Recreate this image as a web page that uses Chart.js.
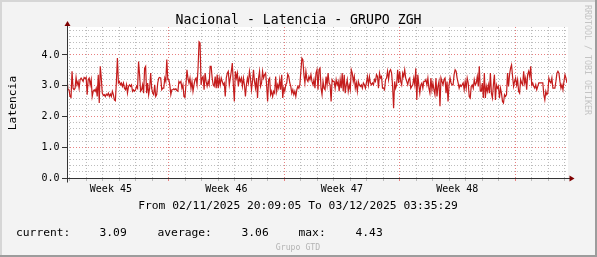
<!DOCTYPE html>
<html>
<head>
<meta charset="utf-8">
<script src="https://cdn.jsdelivr.net/npm/chart.js@4/dist/chart.umd.min.js"></script>
<style>
  html, body { margin: 0; padding: 0; background: #f3f3f3; }
  canvas { display: block; }
</style>
</head>
<body>
<canvas id="latChart" width="597" height="257"></canvas>
<script>
const chartTitle = 'Nacional - Latencia - GRUPO ZGH';
const yTitle = 'Latencia';
const rangeText = 'From 02/11/2025 20:09:05 To 03/12/2025 03:35:29';
const watermark = 'RRDTOOL / TOBI OETIKER';
const footer = 'Grupo GTD';

// time in days counted from 02/11/2025 00:00 (a Sunday)
const tStart = 0.83964;   // 20:09:05
const tEnd = 31.14964;    // 03/12 03:35:29

const weekLabels = ['Week 45', 'Week 46', 'Week 47', 'Week 48'];
const weekCenters = [3.5, 10.5, 17.5, 24.5];
const yMajor = [0, 1, 2, 3, 4];
const yMax = 4.91;

const statNames = ['current:', 'average:', 'max:'];
const statValues = ['3.09', '3.06', '4.43'];

const latency = [
  3.25, 2.87, 2.87, 2.65, 2.62, 3.47, 2.92, 2.87, 2.92, 3.27,
  3.03, 3.14, 2.92, 3.20, 3.25, 3.20, 3.14, 3.27, 3.23, 3.27,
  2.71, 3.20, 3.25, 3.03, 3.20, 2.65, 2.82, 2.87, 2.82, 2.92,
  2.65, 3.36, 2.44, 3.63, 3.25, 2.76, 2.69, 2.71, 2.65, 2.73,
  2.69, 2.76, 2.65, 2.73, 2.65, 2.82, 2.71, 2.54, 2.51, 3.14,
  3.90, 3.09, 3.14, 3.03, 3.09, 2.98, 3.09, 2.92, 2.87, 3.03,
  2.76, 2.98, 3.03, 2.98, 3.03, 2.82, 2.87, 2.82, 2.87, 2.98,
  2.92, 3.79, 3.36, 2.82, 2.87, 3.03, 2.76, 3.57, 3.63, 2.76,
  3.09, 2.71, 2.92, 3.41, 2.92, 2.76, 2.71, 3.03, 2.65, 2.71,
  3.09, 3.25, 3.27, 3.25, 2.87, 2.92, 2.92, 3.25, 3.14, 3.85,
  // week 46
  3.20, 3.20, 3.03, 2.71, 2.87, 2.87, 2.90, 2.87, 2.90, 2.84,
  2.82, 3.14, 3.09, 3.14, 2.92, 3.03, 2.65, 2.62, 3.03, 3.52,
  3.25, 3.09, 3.25, 2.92, 3.14, 2.82, 3.03, 3.20, 3.25, 3.03,
  3.57, 4.43, 4.39, 3.03, 3.25, 3.30, 2.87, 3.41, 3.14, 2.98,
  3.14, 3.03, 3.63, 3.63, 3.25, 3.03, 2.98, 3.30, 2.92, 3.36,
  2.92, 3.25, 3.03, 3.25, 3.14, 3.03, 3.09, 2.65, 3.25, 3.41,
  3.47, 3.03, 3.25, 3.47, 3.74, 3.03, 2.49, 3.47, 3.25, 3.41,
  2.98, 3.25, 3.14, 3.25, 2.98, 3.25, 3.03, 2.65, 3.03, 3.25,
  3.09, 3.47, 3.25, 2.87, 3.14, 3.52, 3.14, 2.92, 3.25, 2.60,
  3.25, 3.47, 2.98, 3.09, 3.47, 3.25, 3.36, 3.41, 3.03,
  // week 47
  2.49, 3.20, 3.25, 2.71, 2.82, 2.65, 2.82, 2.76, 3.30, 2.82,
  3.03, 2.92, 3.20, 2.87, 3.36, 2.60, 2.92, 2.82, 3.03, 3.09,
  3.38, 3.30, 3.09, 2.98, 2.76, 2.87, 2.71, 2.82, 2.65, 2.87,
  2.98, 2.92, 3.03, 3.47, 3.90, 3.85, 3.36, 3.09, 3.47, 3.20,
  3.14, 3.30, 3.20, 3.36, 3.14, 3.03, 3.20, 2.92, 3.41, 3.52,
  2.87, 3.52, 3.57, 2.92, 2.71, 3.14, 2.92, 2.87, 3.30, 3.03,
  3.41, 3.09, 3.03, 2.49, 3.20, 3.14, 3.14, 2.92, 3.20, 3.03,
  3.14, 2.82, 3.20, 2.92, 3.41, 2.82, 3.36, 2.76, 3.03, 3.20,
  2.82, 3.03, 2.87, 3.52, 3.41, 3.14, 3.30, 2.92, 3.09, 2.82,
  3.14, 3.03, 2.98, 3.03, 2.92, 3.09, 3.03, 2.92, 3.09, 3.30,
  // week 48
  3.03, 3.30, 3.09, 3.03, 3.09, 3.03, 3.20, 3.14, 3.36, 3.30,
  2.92, 3.41, 3.25, 3.30, 2.92, 2.92, 2.87, 3.20, 3.25, 3.47,
  3.20, 3.47, 3.52, 3.41, 2.98, 2.27, 3.14, 2.92, 3.03, 3.52,
  3.09, 3.47, 3.14, 3.03, 3.41, 3.30, 3.52, 3.25, 3.14, 3.03,
  3.20, 3.25, 2.92, 2.98, 3.03, 3.25, 3.03, 3.57, 2.54, 3.36,
  3.03, 2.76, 3.03, 3.09, 2.92, 3.14, 3.14, 3.20, 3.03, 3.25,
  2.92, 2.76, 3.25, 2.87, 3.09, 2.87, 2.71, 3.25, 2.65, 2.98,
  3.14, 2.33, 3.25, 3.14, 3.03, 3.20, 3.25, 2.76, 3.14, 2.49,
  3.03, 3.25, 3.09, 3.03, 3.03, 3.36, 3.52, 3.47, 3.25, 3.09,
  2.92, 3.03, 2.98, 3.03, 3.09, 2.87, 3.14, 2.92, 3.25, 3.09,
  // last days
  2.65, 2.60, 2.98, 3.03, 2.92, 3.20, 3.03, 3.09, 3.30, 2.98,
  3.63, 2.82, 2.82, 3.09, 2.60, 3.41, 2.60, 2.98, 2.82, 3.03,
  2.76, 3.41, 2.76, 2.60, 3.03, 3.36, 2.54, 3.03, 2.92, 2.98,
  2.60, 2.92, 2.76, 2.49, 2.44, 2.71, 2.65, 2.71, 3.41, 2.98,
  3.36, 3.57, 3.68, 3.30, 2.98, 3.14, 3.25, 3.03, 3.20, 2.82,
  2.76, 3.20, 3.09, 3.03, 3.47, 3.09, 3.25, 2.87, 3.36, 3.47,
  3.30, 3.63, 3.03, 3.09, 2.98, 2.92, 3.03, 2.87, 2.98, 3.09,
  3.09, 3.09, 3.09, 3.09, 2.71, 2.54, 2.82, 2.71, 2.76, 3.25,
  3.14, 3.09, 3.25, 2.92, 2.92, 2.92, 3.14, 3.41, 3.47, 3.41,
  3.14, 2.92, 3.03, 2.87, 3.14, 3.36, 3.25, 3.09
];

const step = (tEnd - tStart) / (latency.length - 1);
const points = latency.map((v, i) => ({ x: tStart + i * step, y: v }));

const mono = '"DejaVu Sans Mono", monospace';
const gridGrey = '#bdbdbd';
const gridRed = '#e88080';
const axisColor = '#333333';
const arrowColor = '#7f0000';

const rrdFrame = {
  id: 'rrdFrame',
  beforeDraw(chart) {
    const c = chart.ctx, a = chart.chartArea;
    c.save();
    c.fillStyle = '#f3f3f3';
    c.fillRect(0, 0, chart.width, chart.height);
    // shaded frame
    c.fillStyle = '#d6d6d6';
    c.fillRect(0, 0, chart.width, 2);
    c.fillRect(0, 0, 2, chart.height);
    c.fillStyle = '#9c9c9c';
    c.fillRect(0, chart.height - 2, chart.width, 2);
    c.fillRect(chart.width - 2, 0, 2, chart.height);
    c.fillStyle = '#ffffff';
    c.fillRect(a.left, a.top, a.right - a.left + 1, a.bottom - a.top);
    c.restore();
  },
  afterDraw(chart) {
    const c = chart.ctx, a = chart.chartArea;
    const x0 = Math.round(a.left) + 0.5, y0 = Math.round(a.bottom) + 0.5;
    c.save();
    // axes
    c.strokeStyle = axisColor;
    c.lineWidth = 1;
    c.beginPath();
    c.moveTo(x0 - 5, y0); c.lineTo(a.right + 3, y0);
    c.moveTo(x0, y0 + 4); c.lineTo(x0, a.top - 3);
    c.stroke();
    // arrows
    c.fillStyle = arrowColor;
    c.beginPath();
    c.moveTo(a.right + 7.5, y0); c.lineTo(a.right + 2.5, y0 - 3); c.lineTo(a.right + 2.5, y0 + 3);
    c.closePath(); c.fill();
    c.beginPath();
    c.moveTo(x0, a.top - 6); c.lineTo(x0 - 3, a.top - 1); c.lineTo(x0 + 3, a.top - 1);
    c.closePath(); c.fill();

    // texts
    c.fillStyle = '#000';
    c.textBaseline = 'alphabetic';
    c.textAlign = 'center';
    c.font = '13.2px ' + mono;
    c.fillText(chartTitle, 298.5, 24);
    c.font = '11.3px ' + mono;
    c.fillText(rangeText, 298, 208.5);

    c.textAlign = 'left';
    const statX = [[16, 99.5], [157.5, 241.5], [298.5, 355.5]];
    statNames.forEach((n, i) => {
      c.fillText(n, statX[i][0], 236);
      c.fillText(statValues[i], statX[i][1], 236);
    });

    c.save();
    c.translate(15.5, 103);
    c.rotate(-Math.PI / 2);
    c.textAlign = 'center';
    c.fillText(yTitle, 0, 0);
    c.restore();

    c.fillStyle = '#b4b4b4';
    c.font = '8.2px ' + mono;
    c.textAlign = 'center';
    c.fillText(footer, 298, 249.5);

    c.save();
    c.fillStyle = '#c4c4c4';
    c.translate(585, 60);
    c.rotate(Math.PI / 2);
    c.font = '8.3px ' + mono;
    c.fillText(watermark, 0, 0);
    c.restore();
    c.restore();
  }
};

const isWeek = v => Math.abs(v % 7) < 1e-6;
const isMajorY = v => yMajor.some(m => Math.abs(m - v) < 1e-6);

new Chart(document.getElementById('latChart'), {
  type: 'line',
  data: {
    datasets: [{
      label: yTitle,
      data: points,
      borderColor: '#c41c1c',
      borderWidth: 1.2,
      pointRadius: 0,
      tension: 0,
      fill: false
    }]
  },
  options: {
    responsive: false,
    devicePixelRatio: 1,
    animation: false,
    layout: { padding: { left: 0, right: 30, top: 27, bottom: 56 } },
    plugins: { legend: { display: false }, tooltip: { enabled: false } },
    scales: {
      x: {
        type: 'linear',
        position: 'bottom',
        min: tStart,
        max: tEnd,
        afterBuildTicks: s => {
          const t = [];
          for (let d = Math.ceil(tStart); d <= tEnd; d++) t.push({ value: d });
          s.ticks = t;
        },
        afterFit: s => { s.height = 3; },
        ticks: { display: false },
        border: { display: false, dash: [1, 2] },
        grid: {
          color: ctx => isWeek(ctx.tick.value) ? gridRed : gridGrey,
          tickColor: ctx => isWeek(ctx.tick.value) ? gridRed : gridGrey,
          tickBorderDash: [],
          tickLength: 3,
          lineWidth: 1
        }
      },
      weeks: {
        type: 'linear',
        position: 'bottom',
        min: tStart,
        max: tEnd,
        afterBuildTicks: s => { s.ticks = weekCenters.map(v => ({ value: v })); },
        afterFit: s => { s.height = 20; },
        border: { display: false },
        grid: { display: false, drawTicks: false },
        ticks: {
          autoSkip: false,
          maxRotation: 0,
          padding: 2,
          color: '#000',
          font: { family: mono, size: 10 },
          callback: (v, i) => weekLabels[i]
        }
      },
      y: {
        min: 0,
        max: yMax,
        afterBuildTicks: s => {
          const t = [];
          for (let k = 0; k * 0.2 < yMax - 0.01; k++) t.push({ value: Math.round(k * 2) / 10 });
          s.ticks = t;
        },
        afterFit: s => { s.width = 67; },
        border: { display: false, dash: [1, 2] },
        grid: {
          color: ctx => isMajorY(ctx.tick.value) ? gridRed : gridGrey,
          tickColor: ctx => isMajorY(ctx.tick.value) ? axisColor : 'rgba(0,0,0,0)',
          tickBorderDash: [],
          tickLength: 5,
          lineWidth: 1
        },
        ticks: {
          autoSkip: false,
          padding: 2.5,
          color: '#000',
          font: { family: mono, size: 10 },
          callback: v => isMajorY(v) ? v.toFixed(1) : ''
        }
      }
    }
  },
  plugins: [rrdFrame]
});
</script>
</body>
</html>
